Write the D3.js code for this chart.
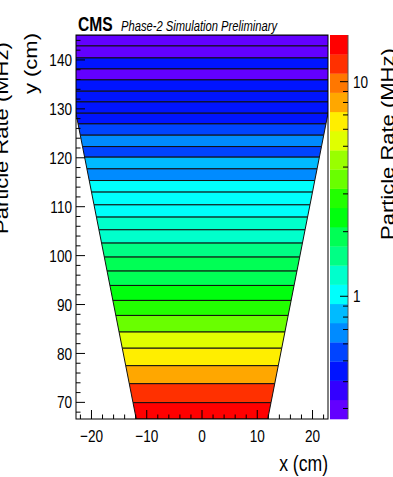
<!DOCTYPE html>
<html>
<head>
<meta charset="utf-8">
<script src="https://cdn.jsdelivr.net/npm/d3@7"></script>
<style>
body { margin: 0; background: #fff; }
svg { display: block; }
text { font-family: "Liberation Sans", Arial, Helvetica, sans-serif; fill: #000; }
</style>
</head>
<body>
<svg id="chart"></svg>
<script>
// partition edges along y (cm), top to bottom
var bandEdges = [145.1, 142.86, 140.41, 138.16, 135.92, 133.61, 131.42, 129.11, 126.93, 124.62,
    122.29, 120.13, 117.74, 115.35, 112.98, 110.38, 107.87, 105.28, 102.56, 99.70,
    96.84, 93.90, 90.84, 87.77, 84.38, 81.07, 77.50, 73.82, 69.94, 66.6]

// particle rate in each partition (MHz), top to bottom
var rates = [0.30, 0.31, 0.44, 0.30, 0.45, 0.46, 0.46, 0.47, 0.55, 0.69,
    0.56, 0.84, 0.68, 1.00, 1.03, 1.06, 1.24, 1.28, 1.55, 1.87,
    1.93, 2.33, 2.86, 3.5, 5.3, 6.5, 8.0, 12.0, 15.0]

// chamber outline: half width (cm) at bottom and top
var chamberBottom = { y: 66.6, halfWidth: 11.9 }
var chamberTop = { y: 145.1, halfWidth: 25.6 }

var xTicks = [-20, -10, 0, 10, 20]
var yTicks = [70, 80, 90, 100, 110, 120, 130, 140]
var zTicks = [1, 10]
var zMinorTicks = [0.3, 0.4, 0.5, 0.6, 0.7, 0.8, 0.9, 2, 3, 4, 5, 6, 7, 8, 9]
var zRange = [0.268, 16.5]
var nContours = 20

var dimensions = {
    width: 393,
    height: 477,
    margin: { top: 35, bottom: 58, left: 76, right: 65 }
}
var sx = 0.8 // text looks squeezed horizontally

var plotLeft = dimensions.margin.left
var plotRight = dimensions.width - dimensions.margin.right
var plotTop = dimensions.margin.top
var plotBottom = dimensions.height - dimensions.margin.bottom

var svg = d3.select("#chart")
    .attr("width", dimensions.width)
    .attr("height", dimensions.height)

var xScale = d3.scaleLinear().domain([-22.8, 22.8]).range([plotLeft, plotRight])
var yScale = d3.scaleLinear().domain([66.6, 145.1]).range([plotBottom, plotTop])
var halfWidth = d3.scaleLinear()
    .domain([chamberBottom.y, chamberTop.y])
    .range([chamberBottom.halfWidth, chamberTop.halfWidth])

// ROOT "pretty" palette, 20 contour levels
var palette = d3.range(nContours).map(function (k) {
    var idx = Math.floor((k + 0.99) * 50 / nContours)
    var hue = 280 - (idx + 1) * 280 / 50
    return d3.hsl(hue, 1, 0.5).formatHex()
})
var logZ = [Math.log10(zRange[0]), Math.log10(zRange[1])]
var color = d3.scaleQuantize().domain(logZ).range(palette)
var zScale = d3.scaleLog().domain(zRange).range([plotBottom, plotTop])

svg.append("clipPath").attr("id", "plot-clip")
    .append("rect")
    .attr("x", plotLeft).attr("y", plotTop)
    .attr("width", plotRight - plotLeft).attr("height", plotBottom - plotTop)

var bands = rates.map(function (r, i) {
    return { rate: r, y0: bandEdges[i + 1], y1: bandEdges[i] }
})

svg.append("g")
    .attr("clip-path", "url(#plot-clip)")
    .selectAll("polygon")
    .data(bands)
    .enter()
    .append("polygon")
    .attr("points", function (d) {
        var h0 = halfWidth(d.y0), h1 = halfWidth(d.y1)
        return [[-h0, d.y0], [h0, d.y0], [h1, d.y1], [-h1, d.y1]]
            .map(function (p) { return xScale(p[0]) + "," + yScale(p[1]) }).join(" ")
    })
    .attr("fill", function (d) { return color(Math.log10(d.rate)) })
    .attr("stroke", "#111")
    .attr("stroke-width", 1)

// frame
svg.append("rect")
    .attr("x", plotLeft).attr("y", plotTop)
    .attr("width", plotRight - plotLeft).attr("height", plotBottom - plotTop)
    .attr("fill", "none").attr("stroke", "#000").attr("stroke-width", 1)

// x ticks
var xMinor = d3.range(-22, 23, 2)
svg.append("g").selectAll("line")
    .data(xMinor)
    .enter().append("line")
    .attr("x1", function (d) { return xScale(d) })
    .attr("x2", function (d) { return xScale(d) })
    .attr("y1", plotBottom)
    .attr("y2", function (d) { return plotBottom - (d % 10 === 0 ? 9 : 4.5) })
    .attr("stroke", "#000")

svg.append("g").selectAll("text")
    .data(xTicks)
    .enter().append("text")
    .attr("transform", function (d) { return "translate(" + xScale(d) + "," + (plotBottom + 23) + ") scale(" + sx + ",1)" })
    .attr("text-anchor", "middle")
    .style("font-size", "17px")
    .text(function (d) { return d3.format("d")(d) })

// y ticks
var yMinor = d3.range(68, 146, 2)
svg.append("g").selectAll("line")
    .data(yMinor)
    .enter().append("line")
    .attr("x1", plotLeft)
    .attr("x2", function (d) { return plotLeft + (d % 10 === 0 ? 9 : 4.5) })
    .attr("y1", function (d) { return yScale(d) })
    .attr("y2", function (d) { return yScale(d) })
    .attr("stroke", "#000")

svg.append("g").selectAll("text")
    .data(yTicks)
    .enter().append("text")
    .attr("transform", function (d) { return "translate(" + (plotLeft - 4) + "," + yScale(d) + ") scale(" + sx + ",1)" })
    .attr("text-anchor", "end")
    .attr("dy", "0.36em")
    .style("font-size", "17px")
    .text(function (d) { return d })

// colour bar
var cbLeft = plotRight + 2, cbRight = plotRight + 20
var levels = d3.range(nContours).map(function (k) {
    var step = (logZ[1] - logZ[0]) / nContours
    return { lo: Math.pow(10, logZ[0] + k * step), hi: Math.pow(10, logZ[0] + (k + 1) * step), c: palette[k] }
})
svg.append("g").selectAll("rect")
    .data(levels)
    .enter().append("rect")
    .attr("x", cbLeft)
    .attr("width", cbRight - cbLeft)
    .attr("y", function (d) { return zScale(d.hi) })
    .attr("height", function (d) { return zScale(d.lo) - zScale(d.hi) + 0.3 })
    .attr("fill", function (d) { return d.c })

svg.append("line")
    .attr("x1", cbRight).attr("x2", cbRight)
    .attr("y1", plotTop).attr("y2", plotBottom)
    .attr("stroke", "#555")

svg.append("g").selectAll("line")
    .data(zTicks.concat(zMinorTicks))
    .enter().append("line")
    .attr("x1", cbRight)
    .attr("x2", function (d) { return cbRight - (zTicks.indexOf(d) >= 0 ? 8 : 5) })
    .attr("y1", function (d) { return zScale(d) })
    .attr("y2", function (d) { return zScale(d) })
    .attr("stroke", "#000")

svg.append("g").selectAll("text")
    .data(zTicks)
    .enter().append("text")
    .attr("transform", function (d) { return "translate(" + (cbRight + 5) + "," + zScale(d) + ") scale(" + sx + ",1)" })
    .attr("dy", "0.36em")
    .style("font-size", "17px")
    .text(function (d) { return d })

// titles
svg.append("text")
    .attr("transform", "translate(" + plotRight + ",471) scale(" + sx + ",1)")
    .attr("text-anchor", "end")
    .style("font-size", "22px")
    .text("x (cm)")

svg.append("text")
    .attr("transform", "translate(37," + (plotTop - 2) + ") scale(" + sx + ",1) rotate(-90)")
    .attr("text-anchor", "end")
    .style("font-size", "22px")
    .text("y (cm)")

svg.append("text")
    .attr("transform", "translate(394,240) scale(" + sx + ",1) rotate(-90)")
    .style("font-size", "22px")
    .text("Particle Rate (MHz)")

// title left over from the palette on the other side
svg.append("text")
    .attr("transform", "translate(8,234) scale(" + sx + ",1) rotate(-90)")
    .style("font-size", "22px")
    .text("Particle Rate (MHz)")

svg.append("text")
    .attr("transform", "translate(" + (plotLeft + 2) + ",31) scale(" + sx + ",1)")
    .style("font-size", "19.5px")
    .style("font-weight", "bold")
    .text("CMS")

svg.append("text")
    .attr("transform", "translate(121,30.5) scale(" + sx + ",1)")
    .style("font-size", "14px")
    .style("font-style", "italic")
    .text("Phase-2 Simulation Preliminary")
</script>
</body>
</html>
